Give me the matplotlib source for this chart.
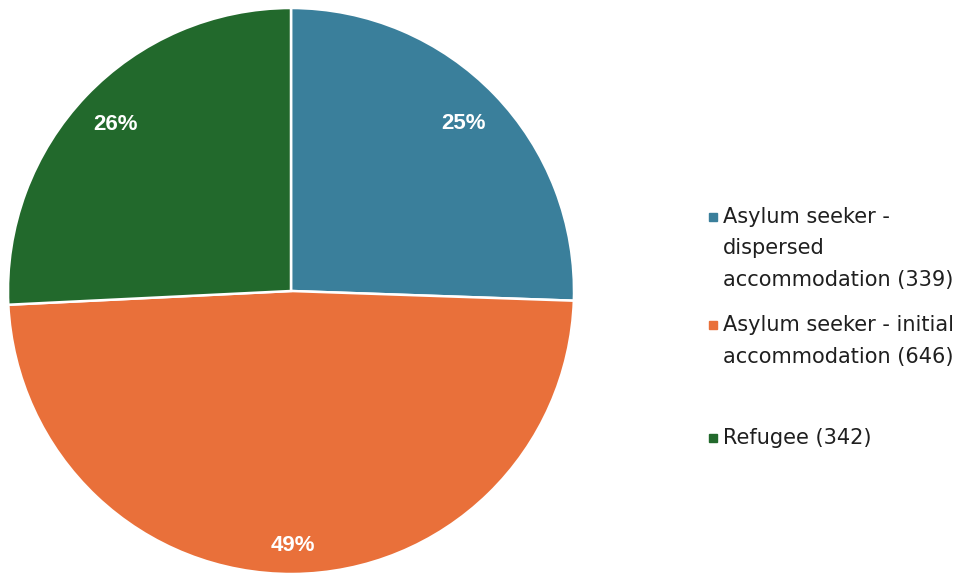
import numpy as np
import matplotlib.pyplot as plt
from matplotlib.patches import Rectangle

legend_lines = [["Asylum seeker -", "dispersed", "accommodation (339)"],
                ["Asylum seeker - initial", "accommodation (646)"],
                ["Refugee (342)"]]
counts = [339, 646, 342]
pct_labels = ["25%", "49%", "26%"]
colors = ['#3a7f9b', '#e9703a', '#22692c']

fig = plt.figure(figsize=(9.7, 5.75), dpi=100)
W, H = 970, 575

# pie centre (291, 291) px from top, radius 283 px
cx, cy, r = 291, 291, 283
ax = fig.add_axes([(cx - r) / W, (H - cy - r) / H, 2 * r / W, 2 * r / H])
wedges, texts = ax.pie(
    counts, colors=colors, startangle=90, counterclock=False,
    wedgeprops=dict(edgecolor='white', linewidth=1.8))
ax.set_xlim(-1, 1)
ax.set_ylim(-1, 1)

# labels pushed towards the rim like Excel does
dists = [0.85, 0.9, 0.855]
for w, lab, d in zip(wedges, pct_labels, dists):
    ang = np.deg2rad((w.theta1 + w.theta2) / 2)
    ax.text(d * np.cos(ang), d * np.sin(ang), lab, color='white', fontsize=16,
            fontweight='bold', family='Liberation Sans', ha='center', va='center')

# legend drawn by hand so the marker sits on the first line
entry_tops = [217, 325, 438]
line_h = 31.5
for col, lines, top in zip(colors, legend_lines, entry_tops):
    fig.patches.append(Rectangle((709 / W, (H - top - 4) / H), 8 / W, 8 / H,
                                 transform=fig.transFigure, color=col))
    for i, ln in enumerate(lines):
        fig.text(723 / W, (H - top - i * line_h) / H, ln, fontsize=15,
                 family='DejaVu Sans', color='#1f1f1f', va='center', ha='left')

fig.savefig('out.png', dpi=100)
